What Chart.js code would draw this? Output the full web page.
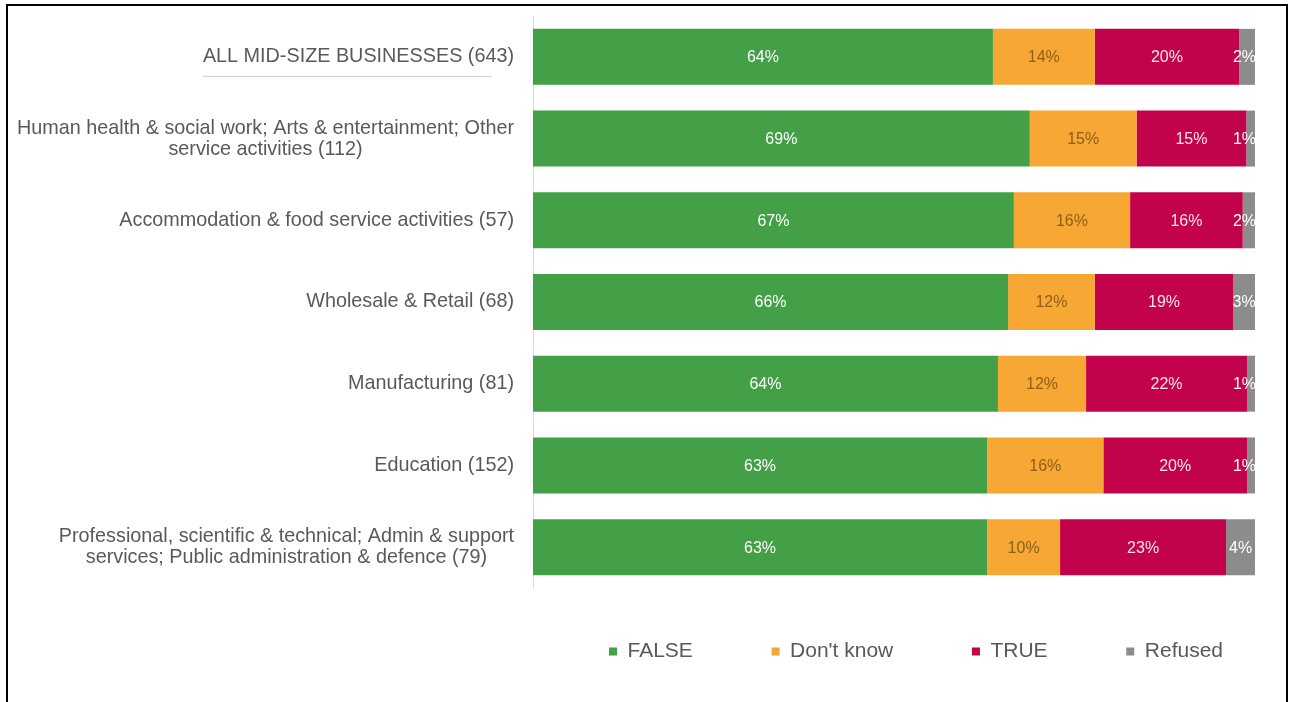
<!DOCTYPE html>
<html>
<head>
<meta charset="utf-8">
<script src="https://cdn.jsdelivr.net/npm/chart.js@4.4.1/dist/chart.umd.min.js"></script>
<style>
  html, body { margin: 0; padding: 0; background: #fff; overflow: hidden; }
  #wrap { position: absolute; left: 0; top: 0; width: 1293px; height: 702px; }
  #frame { position: absolute; left: 6px; top: 4px; width: 1282px; height: 760px; box-sizing: border-box;
           border: 2px solid #000; border-bottom: none; pointer-events: none; }
</style>
</head>
<body>
<div id="wrap"><canvas id="c" width="1293" height="702"></canvas></div>
<div id="frame"></div>
<script>
const categories = [
  ['ALL MID-SIZE BUSINESSES (643)'],
  ['Human health & social work; Arts & entertainment; Other', 'service activities (112)'],
  ['Accommodation & food service activities (57)'],
  ['Wholesale & Retail (68)'],
  ['Manufacturing (81)'],
  ['Education (152)'],
  ['Professional, scientific & technical; Admin & support', 'services; Public administration & defence (79)']
];
const seriesNames = ['FALSE', "Don't know", 'TRUE', 'Refused'];
const falseValues    = [63.7, 68.8, 66.6, 65.8, 64.4, 62.9, 62.9];
const dontKnowValues = [14.1, 14.8, 16.1, 12.0, 12.2, 16.1, 10.1];
const trueValues     = [20.0, 15.2, 15.6, 19.2, 22.3, 19.9, 23.0];
const refusedValues  = [2.2, 1.2, 1.7, 3.0, 1.1, 1.1, 4.0];

const seriesColors = ['#43a047', '#f7a733', '#c2024a', '#8c8c8c'];
const labelColors  = ['#ffffff', '#8e5f18', '#fbe3ec', '#ffffff'];
const FONT = "'Liberation Sans', Arial, sans-serif";

const yLabelPlugin = {
  id: 'yLabels',
  afterDraw(chart) {
    const scale = chart.scales.y;
    const ctx = chart.ctx;
    const right = chart.chartArea.left - 19;
    const lh = 21;
    ctx.save();
    ctx.font = '19.8px ' + FONT;
    ctx.fillStyle = '#595959';
    ctx.textAlign = 'center';
    ctx.textBaseline = 'middle';
    categories.forEach((lines, i) => {
      const y = scale.getPixelForValue(i);
      const w = Math.max(...lines.map(l => ctx.measureText(l).width));
      const cx = right - w / 2;
      const y0 = y - (lines.length - 1) * lh / 2;
      lines.forEach((l, k) => ctx.fillText(l, cx, y0 + k * lh));
      if (i === 0) {
        ctx.strokeStyle = '#cdd0d6';
        ctx.lineWidth = 1;
        ctx.beginPath();
        ctx.moveTo(right - w, y + 19.5);
        ctx.lineTo(right - 22, y + 19.5);
        ctx.stroke();
      }
    });
    ctx.restore();
  }
};

const barLabelPlugin = {
  id: 'barLabels',
  afterDatasetsDraw(chart) {
    const ctx = chart.ctx;
    const area = chart.chartArea;
    ctx.save();
    ctx.font = '16px ' + FONT;
    ctx.textAlign = 'center';
    ctx.textBaseline = 'middle';
    chart.data.datasets.forEach((ds, di) => {
      const meta = chart.getDatasetMeta(di);
      meta.data.forEach((bar, i) => {
        const txt = Math.round(ds.data[i]) + '%';
        const tw = ctx.measureText(txt).width;
        let x = (bar.x + bar.base) / 2;
        if (x + tw / 2 > area.right + 1) x = area.right + 1 - tw / 2;
        ctx.fillStyle = labelColors[di];
        ctx.fillText(txt, x, bar.y + 1);
      });
    });
    ctx.restore();
  }
};

const valueSets = [falseValues, dontKnowValues, trueValues, refusedValues];

new Chart(document.getElementById('c'), {
  type: 'bar',
  data: {
    labels: categories,
    datasets: seriesNames.map((name, k) => ({
      label: name,
      data: valueSets[k],
      backgroundColor: seriesColors[k],
      borderWidth: 0,
      categoryPercentage: 1,
      barPercentage: 0.685
    }))
  },
  options: {
    indexAxis: 'y',
    responsive: false,
    animation: false,
    layout: { padding: { left: 0, right: 38, top: 16, bottom: 30 } },
    scales: {
      x: {
        stacked: true, min: 0, max: 100,
        grid: { display: false },
        border: { display: false },
        ticks: { display: false },
        afterFit(s) { s.height = 21; }
      },
      y: {
        stacked: true,
        grid: { display: false },
        border: { display: true, color: '#d9d9d9', width: 1 },
        ticks: { display: false },
        afterFit(s) { s.width = 533; }
      }
    },
    plugins: {
      tooltip: { enabled: false },
      legend: {
        position: 'bottom',
        align: 'end',
        fullSize: false,
        labels: {
          boxWidth: 8,
          boxHeight: 8,
          padding: 32,
          color: '#595959',
          font: { family: FONT, size: 21 },
          generateLabels(chart) {
            return chart.data.datasets.map((ds, i) => ({
              text: ds.label + (i < chart.data.datasets.length - 1 ? '\u00a0'.repeat(8) : ''),
              fillStyle: ds.backgroundColor,
              strokeStyle: ds.backgroundColor,
              lineWidth: 0,
              hidden: false,
              datasetIndex: i,
              fontColor: '#595959'
            }));
          }
        }
      }
    }
  },
  plugins: [yLabelPlugin, barLabelPlugin]
});
</script>
</body>
</html>
